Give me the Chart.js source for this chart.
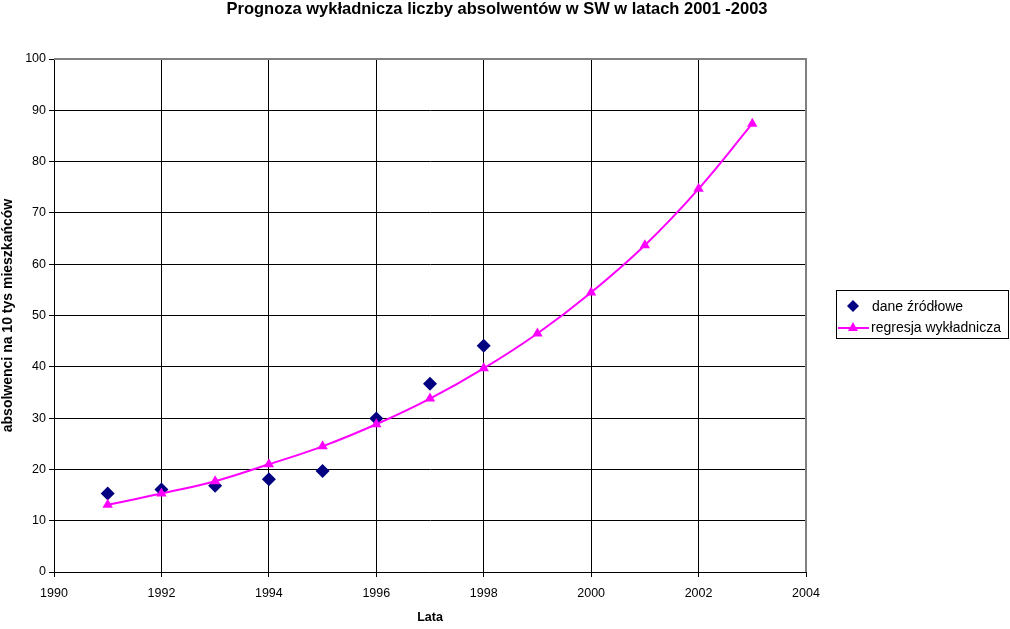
<!DOCTYPE html>
<html>
<head>
<meta charset="utf-8">
<title>Prognoza wykładnicza</title>
<script src="https://cdn.jsdelivr.net/npm/chart.js@4"></script>
<style>
  html, body { margin: 0; padding: 0; background: #fff; }
  #wrap { width: 1010px; height: 629px; position: relative; }
</style>
</head>
<body>
<div id="wrap"><canvas id="chart"></canvas></div>
<script>
// values
const years = [1991, 1992, 1993, 1994, 1995, 1996, 1997, 1998];
const sourceData = [15.3, 16.1, 16.8, 18.1, 19.7, 29.9, 36.7, 44.1];
const forecastYears = [1991, 1992, 1993, 1994, 1995, 1996, 1997, 1998, 1999, 2000, 2001, 2002, 2003];
const regression = [13.1, 15.3, 17.7, 21.0, 24.5, 28.8, 33.8, 39.7, 46.5, 54.5, 63.7, 74.7, 87.4];
const xTicks = [1990, 1992, 1994, 1996, 1998, 2000, 2002, 2004];
const yTicks = [0, 10, 20, 30, 40, 50, 60, 70, 80, 90, 100];

const chartTitle = 'Prognoza wykładnicza liczby absolwentów w SW w latach 2001 -2003';
const FONT = "'Liberation Sans', Arial, sans-serif";

function pairs(xs, ys) {
    return xs.map((x, i) => ({ x: x, y: ys[i] }));
}

const titleAndLegend = {
    id: 'titleAndLegend',
    beforeDatasetsDraw(chart) {
        const ctx = chart.ctx;
        const a = chart.chartArea;
        ctx.save();
        ctx.strokeStyle = '#808080';
        ctx.lineWidth = 2;
        ctx.beginPath();
        ctx.moveTo(a.left, a.top);
        ctx.lineTo(a.right, a.top);
        ctx.lineTo(a.right, a.bottom);
        ctx.stroke();
        ctx.restore();
    },
    afterDraw(chart) {
        const ctx = chart.ctx;
        ctx.save();
        ctx.fillStyle = '#000';
        ctx.font = 'bold 16.5px ' + FONT;
        ctx.textAlign = 'center';
        ctx.textBaseline = 'middle';
        ctx.fillText(chartTitle, 497, 9);

        // legend box
        ctx.strokeStyle = '#000';
        ctx.lineWidth = 1;
        ctx.strokeRect(836.5, 290.5, 172, 48);
        ctx.font = '14px ' + FONT;
        ctx.textAlign = 'left';
        const ds = chart.data.datasets;

        // diamond
        ctx.fillStyle = ds[0].backgroundColor;
        ctx.beginPath();
        ctx.moveTo(853, 300); ctx.lineTo(859, 306); ctx.lineTo(853, 312); ctx.lineTo(847, 306);
        ctx.closePath();
        ctx.fill();
        ctx.fillStyle = '#000';
        ctx.fillText(ds[0].label, 872, 307);

        // line + triangle
        ctx.strokeStyle = ds[1].borderColor;
        ctx.lineWidth = 2;
        ctx.beginPath();
        ctx.moveTo(838, 328); ctx.lineTo(869, 328);
        ctx.stroke();
        ctx.fillStyle = ds[1].backgroundColor;
        ctx.beginPath();
        ctx.moveTo(853, 322); ctx.lineTo(858, 331); ctx.lineTo(848, 331);
        ctx.closePath();
        ctx.fill();
        ctx.fillStyle = '#000';
        ctx.fillText(ds[1].label, 871, 328);
        ctx.restore();
    }
};

new Chart(document.getElementById('chart'), {
    type: 'scatter',
    data: {
        datasets: [
            {
                label: 'dane źródłowe',
                data: pairs(years, sourceData),
                pointStyle: 'rectRot',
                pointRadius: 7,
                pointHoverRadius: 7,
                backgroundColor: '#000080',
                borderColor: '#000080',
                borderWidth: 0,
                showLine: false,
                order: 2
            },
            {
                label: 'regresja wykładnicza',
                data: pairs(forecastYears, regression),
                pointStyle: 'triangle',
                pointRadius: 6,
                pointHoverRadius: 6,
                backgroundColor: '#FF00FF',
                borderColor: '#FF00FF',
                borderWidth: 2,
                pointBorderWidth: 0,
                showLine: true,
                tension: 0.4,
                order: 1
            }
        ]
    },
    options: {
        responsive: true,
        maintainAspectRatio: false,
        animation: false,
        layout: { padding: { top: 59, right: 204, left: 0, bottom: 0 } },
        plugins: {
            legend: { display: false },
            title: { display: false },
            tooltip: { enabled: false }
        },
        scales: {
            x: {
                type: 'linear',
                min: xTicks[0],
                max: xTicks[xTicks.length - 1],
                afterBuildTicks: s => { s.ticks = xTicks.map(v => ({ value: v })); },
                afterFit: s => { s.height = 57; },
                grid: { color: '#000', lineWidth: 1, tickLength: 5, drawTicks: true },
                border: { color: '#000', width: 1 },
                ticks: {
                    color: '#000',
                    font: { family: FONT, size: 12.5 },
                    padding: 9,
                    maxRotation: 0,
                    callback: v => String(v)
                },
                title: {
                    display: true,
                    text: 'Lata',
                    color: '#000',
                    font: { family: FONT, size: 12.5, weight: 'bold' },
                    padding: { top: 0, bottom: 4 }
                }
            },
            y: {
                min: yTicks[0],
                max: yTicks[yTicks.length - 1],
                afterBuildTicks: s => { s.ticks = yTicks.map(v => ({ value: v })); },
                afterFit: s => { s.width = 54; },
                grid: { color: '#000', lineWidth: 1, tickLength: 5, drawTicks: true },
                border: { color: '#000', width: 1 },
                ticks: {
                    color: '#000',
                    font: { family: FONT, size: 12.5 },
                    padding: 3
                },
                title: {
                    display: true,
                    text: 'absolwenci na 10 tys mieszkańców',
                    color: '#000',
                    font: { family: FONT, size: 14, weight: 'bold' },
                    padding: 0
                }
            }
        }
    },
    plugins: [titleAndLegend]
});
</script>
</body>
</html>
